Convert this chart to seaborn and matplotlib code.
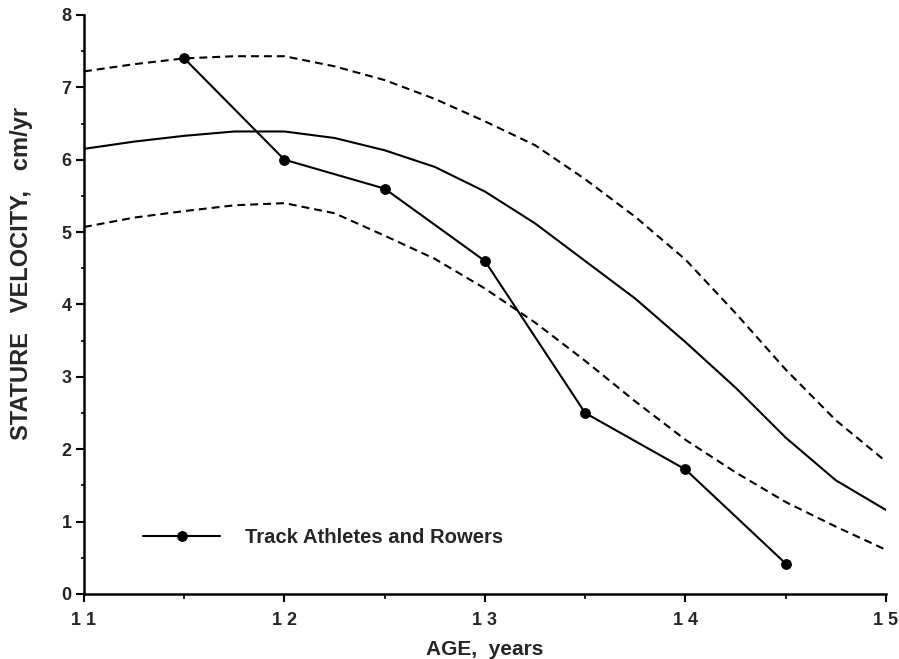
import matplotlib
matplotlib.use("Agg")
import matplotlib.pyplot as plt
import seaborn as sns
import numpy as np
from matplotlib.ticker import MultipleLocator

# Reference curves (quarter-year ages)
ref_ages = [11.0, 11.25, 11.5, 11.75, 12.0, 12.25, 12.5, 12.75, 13.0,
            13.25, 13.5, 13.75, 14.0, 14.25, 14.5, 14.75, 15.0]
median_vel = [6.15, 6.25, 6.33, 6.39, 6.39, 6.30, 6.13, 5.90, 5.56,
              5.12, 4.60, 4.08, 3.48, 2.85, 2.16, 1.57, 1.16]
upper_vel = [7.22, 7.32, 7.40, 7.43, 7.43, 7.29, 7.10, 6.84, 6.53,
             6.20, 5.73, 5.21, 4.62, 3.88, 3.10, 2.40, 1.83]
lower_vel = [5.07, 5.20, 5.29, 5.37, 5.40, 5.26, 4.95, 4.63, 4.22,
             3.75, 3.22, 2.66, 2.13, 1.68, 1.27, 0.93, 0.61]

# Track athletes and rowers
athlete_ages = [11.5, 12.0, 12.5, 13.0, 13.5, 14.0, 14.5]
athlete_vel = [7.40, 6.00, 5.60, 4.60, 2.50, 1.72, 0.42]

x_ticks = [11, 12, 13, 14, 15]
x_ticklabels = ["1 1", "1 2", "1 3", "1 4", "1 5"]
y_ticks = [0, 1, 2, 3, 4, 5, 6, 7, 8]

sns.set_style("white")
plt.rcParams['font.family'] = ['Liberation Sans', 'DejaVu Sans']
plt.rcParams['font.weight'] = 'bold'

fig = plt.figure(figsize=(8.99, 6.59), dpi=100)
ax = fig.add_axes([0.0934, 0.0987, 0.8921, 0.8786])

dash = (0, (3.8, 2.4))
sns.lineplot(x=ref_ages, y=upper_vel, ax=ax, color='black', lw=1.5, linestyle=dash)
sns.lineplot(x=ref_ages, y=median_vel, ax=ax, color='black', lw=1.5)
sns.lineplot(x=ref_ages, y=lower_vel, ax=ax, color='black', lw=1.5, linestyle=dash)
sns.lineplot(x=athlete_ages, y=athlete_vel, ax=ax, color='black', lw=1.5,
             marker='o', markersize=7, markeredgecolor='black',
             label='Track Athletes and Rowers')

ax.set_xlim(11, 15)
ax.set_ylim(0, 8)
ax.set_xticks(x_ticks)
ax.set_xticklabels(x_ticklabels)
ax.set_yticks(y_ticks)
ax.xaxis.set_minor_locator(MultipleLocator(0.5))
ax.yaxis.set_minor_locator(MultipleLocator(0.5))
ax.tick_params(axis='both', which='major', direction='out', length=6, width=1.5,
               labelsize=13, color='black', bottom=True, left=True)
ax.tick_params(axis='x', which='major', pad=7)
ax.tick_params(axis='y', which='major', pad=3)
ax.tick_params(axis='x', which='minor', direction='out', length=3.5, width=1.2,
               color='black', bottom=True)
ax.tick_params(axis='y', which='minor', direction='out', length=2.5, width=1.2,
               color='black', left=True)
for lab in ax.get_xticklabels() + ax.get_yticklabels():
    lab.set_fontweight('bold')

for s in ['top', 'right']:
    ax.spines[s].set_visible(False)
for s in ['left', 'bottom']:
    ax.spines[s].set_color('black')
    ax.spines[s].set_linewidth(1.8)

ax.set_xlabel("AGE,  years", fontsize=15, fontweight='bold', labelpad=8)
ax.set_ylabel("STATURE   VELOCITY,   cm/yr", fontsize=17, fontweight='bold')
ax.yaxis.set_label_coords(-0.064, 0.554)

leg = ax.legend(loc='center left', bbox_to_anchor=(0.0736, 0.0967), frameon=False,
                borderpad=0, borderaxespad=0,
                handlelength=3.8, handletextpad=1.25, numpoints=1,
                prop={'weight': 'bold', 'size': 14.6})

fig.savefig("out.png", dpi=100)
